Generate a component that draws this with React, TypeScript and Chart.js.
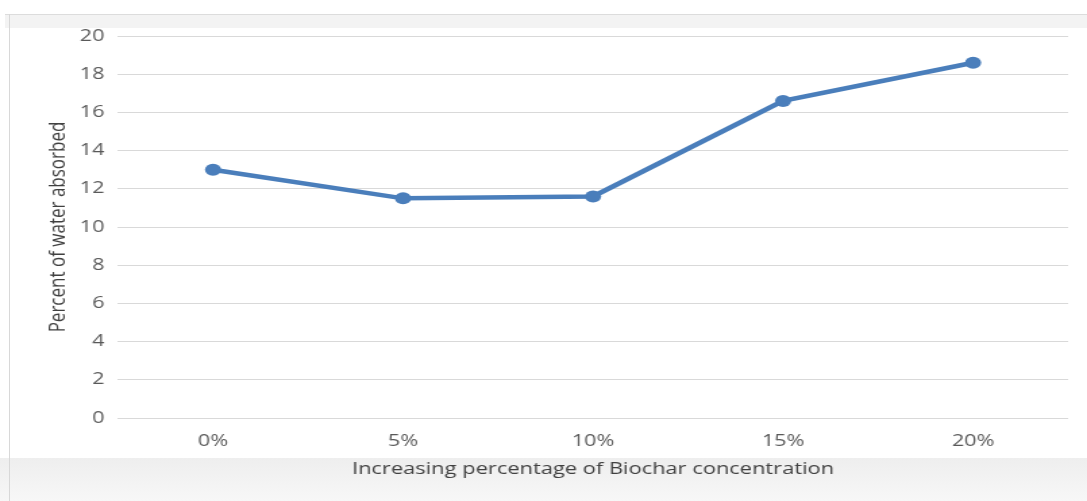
import React, { useEffect, useRef } from "react";
import { Chart, registerables } from "chart.js";

Chart.register(...registerables);

const categories = ["0%", "5%", "10%", "15%", "20%"];
const waterAbsorbed = [13.0, 11.5, 11.6, 16.6, 18.6];
const yTicks = [0, 2, 4, 6, 8, 10, 12, 14, 16, 18, 20];
const xTitle = "Increasing percentage of Biochar concentration";
const yTitle = "Percent of water absorbed";

const STRETCH = 1087 / 805;

export default function App() {
  const ref = useRef<HTMLCanvasElement | null>(null);

  useEffect(() => {
    if (!ref.current) return;
    const chart = new Chart(ref.current, {
      type: "line",
      data: {
        labels: categories,
        datasets: [
          {
            data: waterAbsorbed,
            borderColor: "#4a7ebb",
            backgroundColor: "#4a7ebb",
            borderWidth: 4.5,
            pointRadius: 6,
            pointHoverRadius: 6,
            pointBorderWidth: 0,
            tension: 0,
          },
        ],
      },
      options: {
        responsive: false,
        animation: false,
        devicePixelRatio: 1,
        layout: { padding: { left: 30, top: 36, right: 14, bottom: 0 } },
        plugins: { legend: { display: false }, tooltip: { enabled: false } },
        scales: {
          x: {
            offset: true,
            grid: { display: false, drawTicks: false },
            border: { display: false },
            ticks: {
              color: "#595959",
              padding: 14,
              font: { family: "Open Sans", size: 16 },
            },
            title: {
              display: true,
              text: xTitle,
              color: "#404040",
              padding: { top: 0, bottom: 22 },
              font: { family: "Open Sans", size: 16.2 },
            },
            afterFit: (s: any) => {
              s.height = 83;
            },
          },
          y: {
            min: 0,
            max: 20,
            afterBuildTicks: (s: any) => {
              s.ticks = yTicks.map((v) => ({ value: v }));
            },
            grid: { color: "#d9d9d9", lineWidth: 1, drawTicks: false },
            border: { display: false },
            ticks: {
              color: "#595959",
              padding: 10,
              font: { family: "Open Sans", size: 16 },
            },
            title: {
              display: true,
              text: yTitle,
              color: "#404040",
              padding: { top: 3, bottom: 0 },
              font: { family: "Open Sans", size: 17 },
            },
            afterFit: (s: any) => {
              s.width = 57.4;
            },
          },
        },
      },
    });
    return () => chart.destroy();
  }, []);

  return (
    <div
      style={{
        position: "absolute",
        left: 0,
        top: 0,
        width: 1087,
        height: 501,
        background: "#ffffff",
        overflow: "hidden",
      }}
    >
      <div style={{ position: "absolute", left: 5, top: 14, width: 1082, height: 13, background: "#f3f3f3", borderTop: "1px solid #dcdcdc" }} />
      <div style={{ position: "absolute", left: 0, top: 458, width: 1087, height: 43, background: "linear-gradient(#eeeeee, #f7f7f7)" }} />
      <div style={{ position: "absolute", left: 9, top: 14, width: 1, height: 487, background: "#d8d8d8" }} />
      <div
        style={{
          position: "absolute",
          left: 0,
          top: 0,
          width: 805,
          height: 501,
          transform: `scaleX(${STRETCH})`,
          transformOrigin: "0 0",
        }}
      >
        <canvas ref={ref} width={805} height={501} style={{ width: 805, height: 501, display: "block" }} />
      </div>
    </div>
  );
}
